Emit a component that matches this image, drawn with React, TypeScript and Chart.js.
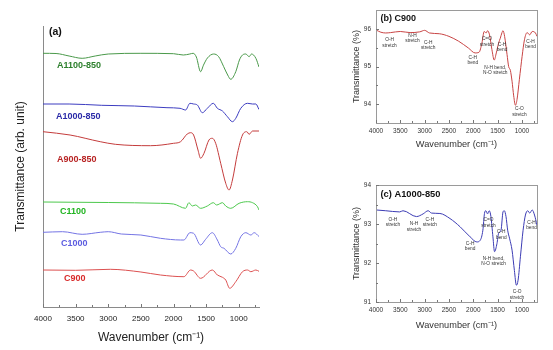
import React, { useEffect, useRef } from "react";
import { Chart, registerables } from "chart.js";
Chart.register(...registerables);

const FONT = "'Liberation Sans', Arial, Helvetica, sans-serif";

// shared wavenumber axis
const wnMin = 690;
const wnMax = 4000;
const wnTickLabels = [4000, 3500, 3000, 2500, 2000, 1500, 1000];
const wnMinorTicks = [3750, 3250, 2750, 2250, 1750, 1250, 750];

// ---------- panel (a): stacked spectra, arbitrary units ----------
const a1100Wn = [4000, 3800, 3600, 3400, 3200, 3000, 2500, 2000, 1850, 1750, 1700, 1650, 1585, 1540, 1480, 1385, 1308, 1231, 1170, 1123, 1046, 990, 943, 892, 841, 805, 738, 690];
const a1100T = [253.7, 253.5, 251, 248.7, 251, 253, 253.7, 253.3, 252, 253, 253.7, 250, 235.3, 242, 249, 253, 250.3, 240.3, 232, 227.7, 235.3, 247, 252, 253, 250.3, 253, 248.7, 240];

const a1000Wn = [4000, 3600, 3100, 2600, 2100, 1900, 1815, 1748, 1692, 1635, 1558, 1482, 1390, 1328, 1250, 1174, 1097, 1046, 969, 866, 789, 738, 690];
const a1000T = [203, 203, 201.7, 201, 199.3, 198.7, 197, 203.7, 203, 202, 194.3, 198.7, 203.7, 198.7, 196, 190.3, 185.3, 188.7, 198.7, 203.7, 203, 203, 197.5];

const a900Wn = [4000, 3585, 3123, 2892, 2354, 2000, 1892, 1790, 1738, 1692, 1625, 1585, 1533, 1457, 1405, 1354, 1277, 1200, 1149, 1097, 1020, 943, 877, 841, 789, 690];
const a900T = [175.3, 172, 165.3, 162.7, 161.3, 163.7, 165.3, 173, 174.3, 172, 157, 148.7, 153.7, 167, 168.7, 163.7, 143.7, 123.7, 117, 127, 153.7, 172, 175.3, 172.7, 176, 176];

const c1100Wn = [4000, 3000, 2200, 2000, 1815, 1765, 1712, 1662, 1585, 1482, 1390, 1339, 1250, 1200, 1123, 995, 866, 789, 713, 690];
const c1100T = [105, 104.5, 103.7, 103, 98.7, 104.3, 101, 102, 98.7, 101, 104.3, 102, 104.3, 101, 98.7, 103.7, 105.3, 104.3, 100.3, 97];

const c1000Wn = [4000, 3700, 3400, 3123, 3000, 2800, 2500, 2200, 1892, 1841, 1748, 1692, 1585, 1508, 1405, 1328, 1277, 1226, 1123, 1046, 969, 892, 815, 764, 690];
const c1000T = [74.7, 75.3, 72.7, 74.7, 75.3, 73, 72, 68.7, 67, 67, 74.3, 73.7, 62, 67.7, 74.3, 67, 60.3, 58.7, 53, 58.7, 70.3, 74.3, 72, 74.3, 70.5];

const c900Wn = [4000, 3500, 2969, 2500, 2200, 1841, 1738, 1692, 1585, 1405, 1328, 1250, 1200, 1139, 1046, 943, 866, 815, 738, 690];
const c900T = [37, 36.7, 37.7, 35, 32, 30.3, 37, 36, 28.7, 37, 32, 29.7, 27, 18.7, 25.3, 35.3, 37, 35.3, 37, 35.7];

const seriesNames = ["A1100-850", "A1000-850", "A900-850", "C1100", "C1000", "C900"];
const seriesWn = [a1100Wn, a1000Wn, a900Wn, c1100Wn, c1000Wn, c900Wn];
const seriesT = [a1100T, a1000T, a900T, c1100T, c1000T, c900T];
const nameWn = [3785, 3800, 3785, 3738, 3723, 3677];
const nameT = [241, 190, 147, 95, 63, 28];
const lineColors = ["#4a994a", "#3c3cc0", "#c43c3c", "#4cc84c", "#7474e4", "#dc5050"];
const nameColors = ["#2e802e", "#2a2aa8", "#b82424", "#22b422", "#5c5ce0", "#d82a2a"];

// ---------- panel (b): C900 ----------
const bWn = [4000, 3900, 3800, 3700, 3500, 3300, 3100, 3000, 2900, 2700, 2500, 2300, 2100, 1962, 1880, 1823, 1776, 1735, 1707, 1666, 1617, 1569, 1527, 1480, 1445, 1410, 1389, 1356, 1306, 1273, 1238, 1203, 1169, 1134, 1100, 1052, 996, 948, 893, 839, 789, 721, 690];
const bT = [95.97, 95.91, 95.89, 95.9, 95.93, 95.9, 95.92, 95.96, 95.89, 95.87, 95.8, 95.67, 95.49, 95.36, 95.38, 95.62, 95.93, 95.89, 95.95, 95.84, 95.45, 95.17, 95.36, 95.62, 95.75, 95.9, 95.95, 95.8, 95.32, 95.0, 94.9, 94.61, 94.22, 93.97, 94.13, 94.66, 95.27, 95.71, 95.9, 95.84, 95.93, 95.89, 95.8];
const bYTicks = [94, 95, 96];
const bYMinor = [94.5, 95.5];
const bNoteText = [["O-H", "stretch"], ["N-H", "stretch"], ["C-H", "stretch"], ["C-H", "bend"], ["C=O", "stretch"], ["C-H", "bend"], ["N-H bend,", "N-O stretch"], ["C-O", "stretch"], ["C-H", "bend"]];
const bNoteWn = [3721, 3251, 2928, 2010, 1720, 1410, 1548, 1052, 824];
const bNoteT = [95.71, 95.82, 95.64, 95.24, 95.73, 95.58, 94.97, 93.87, 95.67];

// ---------- panel (c): A1000-850 ----------
const cWn = [4000, 3800, 3514, 3445, 3168, 3031, 2928, 2858, 2686, 2479, 2272, 2065, 1927, 1859, 1803, 1770, 1741, 1707, 1672, 1637, 1596, 1563, 1513, 1480, 1430, 1389, 1362, 1327, 1293, 1252, 1203, 1155, 1114, 1079, 1031, 976, 928, 880, 839, 789, 741, 690];
const cT = [93.36, 93.34, 93.31, 93.34, 93.19, 93.26, 93.34, 93.28, 93.27, 93.14, 92.93, 92.67, 92.54, 92.58, 92.84, 93.27, 93.34, 93.26, 93.34, 93.19, 92.67, 92.29, 92.5, 92.76, 92.84, 93.31, 93.34, 93.19, 92.84, 92.62, 92.33, 91.81, 91.43, 91.56, 92.16, 92.84, 93.23, 93.34, 93.28, 93.36, 93.23, 92.97];
const cYTicks = [91, 92, 93, 94];
const cYMinor = [91.5, 92.5, 93.5];
const cNoteText = [["O-H", "stretch"], ["N-H", "stretch"], ["C-H", "stretch"], ["C-H", "bend"], ["C=O", "stretch"], ["C-H", "bend"], ["N-H bend,", "N-O stretch"], ["C-O", "stretch"], ["C-H", "bend"]];
const cNoteWn = [3652, 3218, 2893, 2065, 1687, 1424, 1583, 1100, 803];
const cNoteT = [93.12, 93.0, 93.12, 92.5, 93.1, 92.8, 92.12, 91.26, 93.04];

const pts = (wn: number[], t: number[]) => wn.map((x, i) => ({ x, y: t[i] }));
const plain = (v: any) => String(v);

function drawInnerTicks(chart: any, xMajor: number[], xMinor: number[], yMajor: number[], yMinor: number[], color: string) {
  const { ctx, chartArea: ca, scales } = chart;
  ctx.save();
  ctx.strokeStyle = color;
  ctx.lineWidth = 1;
  ctx.beginPath();
  const xs = (vals: number[], len: number) => vals.forEach((v) => {
    const px = Math.round(scales.x.getPixelForValue(v)) + 0.5;
    ctx.moveTo(px, ca.bottom);
    ctx.lineTo(px, ca.bottom - len);
  });
  const ys = (vals: number[], len: number) => vals.forEach((v) => {
    const py = Math.round(scales.y.getPixelForValue(v)) + 0.5;
    ctx.moveTo(ca.left, py);
    ctx.lineTo(ca.left + len, py);
  });
  xs(xMajor, 3); xs(xMinor, 2); ys(yMajor, 3); ys(yMinor, 2);
  ctx.stroke();
  ctx.restore();
}

function drawNotes(chart: any, wn: number[], t: number[], texts: string[][], font: string, color: string, lh: number) {
  const { ctx, scales } = chart;
  ctx.save();
  ctx.font = font;
  ctx.fillStyle = color;
  ctx.textAlign = "center";
  ctx.textBaseline = "middle";
  texts.forEach((lines, i) => {
    const x = scales.x.getPixelForValue(wn[i]);
    const y = scales.y.getPixelForValue(t[i]);
    lines.forEach((s, j) => ctx.fillText(s, x, y + j * lh));
  });
  ctx.restore();
}

const wnTitle = "Wavenumber (cm\u207B\u00B9)";

function configA(): any {
  return {
    type: "line",
    data: {
      datasets: seriesNames.map((name, i) => ({
        label: name,
        data: pts(seriesWn[i], seriesT[i]),
        borderColor: lineColors[i],
        borderWidth: 1,
        pointRadius: 0,
        cubicInterpolationMode: "monotone",
        fill: false,
      })),
    },
    options: {
      responsive: false,
      animation: false,
      devicePixelRatio: 1,
      layout: { padding: { top: 26, right: 21, left: 0, bottom: 0 } },
      plugins: { legend: { display: false }, tooltip: { enabled: false } },
      scales: {
        x: {
          type: "linear",
          reverse: true,
          min: wnMin,
          max: wnMax,
          afterBuildTicks: (s: any) => { s.ticks = wnTickLabels.map((v) => ({ value: v })); },
          afterFit: (s: any) => { s.height = 43; },
          ticks: { font: { family: FONT, size: 8 }, color: "#222", padding: 7, maxRotation: 0, autoSkip: false, callback: plain },
          grid: { display: false, drawTicks: false },
          border: { display: true, color: "#8a8a8a", width: 1 },
          title: { display: true, text: wnTitle, font: { family: FONT, size: 12 }, color: "#222", padding: { top: 0, bottom: 5 } },
        },
        y: {
          type: "linear",
          min: 0,
          max: 281,
          afterFit: (s: any) => { s.width = 43; },
          ticks: { display: false },
          grid: { display: false, drawTicks: false },
          border: { display: true, color: "#8a8a8a", width: 1 },
          title: { display: true, text: "Transmittance (arb. unit)", font: { family: FONT, size: 12 }, color: "#222", padding: { top: 13, bottom: 0 } },
        },
      },
    },
    plugins: [
      {
        id: "decorA",
        afterDatasetsDraw(chart: any) {
          drawInnerTicks(chart, wnTickLabels, wnMinorTicks, [], [], "#777");
          const { ctx, scales, chartArea } = chart;
          ctx.save();
          ctx.textAlign = "left";
          ctx.textBaseline = "middle";
          ctx.font = `bold 9px ${FONT}`;
          seriesNames.forEach((n, i) => {
            ctx.fillStyle = nameColors[i];
            ctx.fillText(n, scales.x.getPixelForValue(nameWn[i]), scales.y.getPixelForValue(nameT[i]));
          });
          ctx.fillStyle = "#111";
          ctx.font = `bold 10.5px ${FONT}`;
          ctx.fillText("(a)", chartArea.left + 6, chartArea.top + 6);
          ctx.restore();
        },
      },
    ],
  };
}

function configSpectrum(p: {
  wn: number[]; t: number[]; color: string; yMin: number; yMax: number; yTicks: number[]; yMinor: number[];
  padTop: number; xHeight: number; titleBottom: number; panelTitle: string; titleSize: number;
  notesText: string[][]; notesWn: number[]; notesT: number[];
}): any {
  return {
    type: "line",
    data: {
      datasets: [{
        label: p.panelTitle,
        data: pts(p.wn, p.t),
        borderColor: p.color,
        borderWidth: 1,
        pointRadius: 0,
        cubicInterpolationMode: "monotone",
        fill: false,
      }],
    },
    options: {
      responsive: false,
      animation: false,
      devicePixelRatio: 1,
      layout: { padding: { top: p.padTop, right: 16, left: 0, bottom: 0 } },
      plugins: { legend: { display: false }, tooltip: { enabled: false } },
      scales: {
        x: {
          type: "linear",
          reverse: true,
          min: wnMin,
          max: wnMax,
          afterBuildTicks: (s: any) => { s.ticks = wnTickLabels.map((v) => ({ value: v })); },
          afterFit: (s: any) => { s.height = p.xHeight; },
          ticks: { font: { family: FONT, size: 6.5 }, color: "#333", padding: 4, maxRotation: 0, autoSkip: false, callback: plain },
          grid: { display: false, drawTicks: false },
          border: { display: false },
          title: { display: true, text: wnTitle, font: { family: FONT, size: 9.2 }, color: "#333", padding: { top: 0, bottom: p.titleBottom } },
        },
        y: {
          type: "linear",
          min: p.yMin,
          max: p.yMax,
          afterBuildTicks: (s: any) => { s.ticks = p.yTicks.map((v) => ({ value: v })); },
          afterFit: (s: any) => { s.width = 36; },
          ticks: { font: { family: FONT, size: 6.5 }, color: "#333", padding: 5, autoSkip: false, callback: plain },
          grid: { display: false, drawTicks: false },
          border: { display: false },
          title: { display: true, text: "Transmittance (%)", font: { family: FONT, size: 9 }, color: "#333", padding: { top: 11.5, bottom: 0 } },
        },
      },
    },
    plugins: [
      {
        id: "decorSpec",
        afterDatasetsDraw(chart: any) {
          const { ctx, chartArea: ca } = chart;
          ctx.save();
          ctx.strokeStyle = "#9a9a9a";
          ctx.lineWidth = 1;
          ctx.strokeRect(Math.round(ca.left) + 0.5, Math.round(ca.top) + 0.5, Math.round(ca.right - ca.left), Math.round(ca.bottom - ca.top));
          ctx.restore();
          drawInnerTicks(chart, wnTickLabels, wnMinorTicks, p.yTicks, p.yMinor, "#777");
          drawNotes(chart, p.notesWn, p.notesT, p.notesText, `4.8px ${FONT}`, "#333", 5.5);
          ctx.save();
          ctx.font = `bold ${p.titleSize}px ${FONT}`;
          ctx.fillStyle = "#111";
          ctx.textAlign = "left";
          ctx.textBaseline = "middle";
          ctx.fillText(p.panelTitle, ca.left + 4.5, ca.top + 9);
          ctx.restore();
        },
      },
    ],
  };
}

export default function App() {
  const refA = useRef<HTMLCanvasElement>(null);
  const refB = useRef<HTMLCanvasElement>(null);
  const refC = useRef<HTMLCanvasElement>(null);

  useEffect(() => {
    const charts = [
      new Chart(refA.current as HTMLCanvasElement, configA()),
      new Chart(refB.current as HTMLCanvasElement, configSpectrum({
        wn: bWn, t: bT, color: "#c84444", yMin: 93.5, yMax: 96.5, yTicks: bYTicks, yMinor: bYMinor,
        padTop: 10, xHeight: 47, titleBottom: 20, panelTitle: "(b) C900", titleSize: 9,
        notesText: bNoteText, notesWn: bNoteWn, notesT: bNoteT,
      })),
      new Chart(refC.current as HTMLCanvasElement, configSpectrum({
        wn: cWn, t: cT, color: "#3c3cb4", yMin: 91, yMax: 94, yTicks: cYTicks, yMinor: cYMinor,
        padTop: 15, xHeight: 48, titleBottom: 19, panelTitle: "(c) A1000-850", titleSize: 9.3,
        notesText: cNoteText, notesWn: cNoteWn, notesT: cNoteT,
      })),
    ];
    return () => charts.forEach((c) => c.destroy());
  }, []);

  return (
    <div style={{ position: "absolute", left: 0, top: 0, width: 553, height: 350, background: "#fff" }}>
      <canvas ref={refA} width={280} height={350} style={{ position: "absolute", left: 0, top: 0, width: 280, height: 350 }} />
      <canvas ref={refB} width={213} height={170} style={{ position: "absolute", left: 340, top: 0, width: 213, height: 170 }} />
      <canvas ref={refC} width={213} height={180} style={{ position: "absolute", left: 340, top: 170, width: 213, height: 180 }} />
    </div>
  );
}
